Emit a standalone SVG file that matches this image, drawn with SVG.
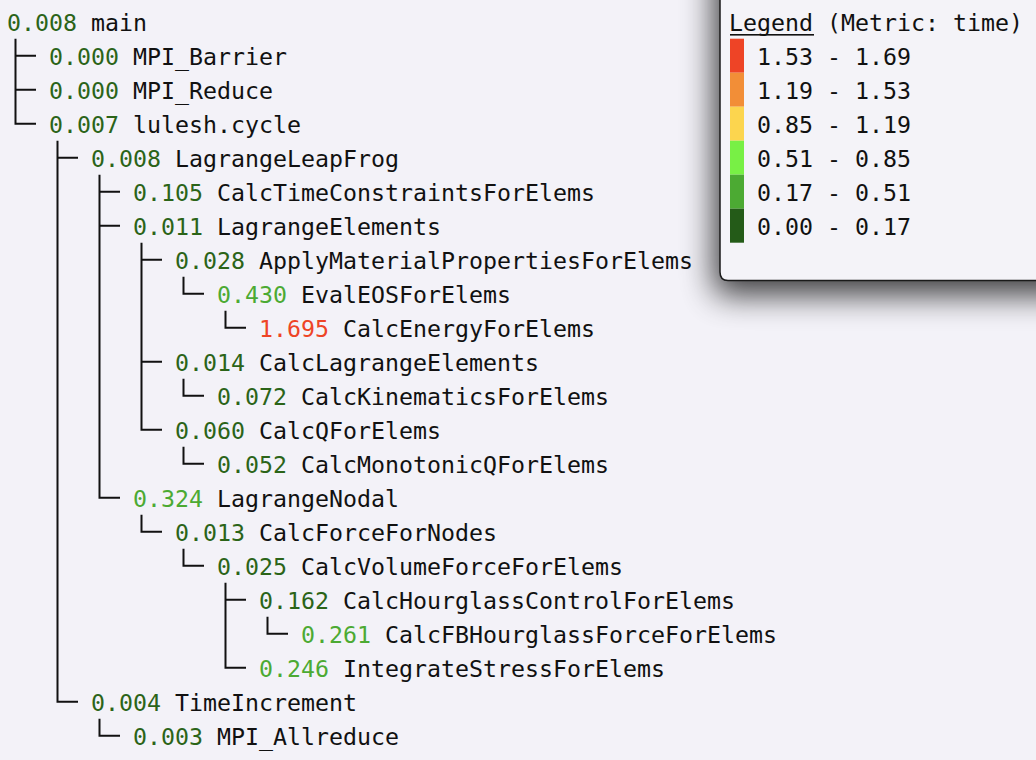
<svg xmlns="http://www.w3.org/2000/svg" width="1036" height="760" viewBox="0 0 1036 760">
<style>
text{font-family:"DejaVu Sans Mono","Liberation Mono",monospace;font-size:23.25px;fill:#111}
.lo{fill:#2b6418}
.mid{fill:#4caa33}
.hi{fill:#ee4426}
.conn path{fill:none;stroke:#111;stroke-width:2}
</style>
<defs>
<filter id="sh" x="-30%" y="-30%" width="160%" height="180%">
<feGaussianBlur stdDeviation="16"/>
</filter>
</defs>
<rect width="1036" height="760" fill="#f3f2f8"/>
<g class="conn" id="connectors">
<path d="M15.5 38.7V123.7H36M15.5 55.7H36M15.5 89.7H36"/>
<path d="M57.5 140.7V701.7H78M57.5 157.7H78"/>
<path d="M99.5 174.7V497.7H120M99.5 191.7H120M99.5 225.7H120"/>
<path d="M141.5 242.7V429.7H162M141.5 259.7H162M141.5 361.7H162"/>
<path d="M183.5 276.7V293.7H204"/>
<path d="M225.5 310.7V327.7H246"/>
<path d="M183.5 378.7V395.7H204"/>
<path d="M183.5 446.7V463.7H204"/>
<path d="M141.5 514.7V531.7H162"/>
<path d="M183.5 548.7V565.7H204"/>
<path d="M225.5 582.7V667.7H246M225.5 599.7H246"/>
<path d="M267.5 616.7V633.7H288"/>
<path d="M99.5 718.7V735.7H120"/>
</g>
<g id="n-main"><text x="7" y="30.5"><tspan class="lo">0.008</tspan> main</text></g>
<g id="n-mpi-barrier"><text x="49" y="64.5"><tspan class="lo">0.000</tspan> MPI_Barrier</text></g>
<g id="n-mpi-reduce"><text x="49" y="98.5"><tspan class="lo">0.000</tspan> MPI_Reduce</text></g>
<g id="n-lulesh-cycle"><text x="49" y="132.5"><tspan class="lo">0.007</tspan> lulesh.cycle</text></g>
<g id="n-lagrangeleapfrog"><text x="91" y="166.5"><tspan class="lo">0.008</tspan> LagrangeLeapFrog</text></g>
<g id="n-calctimeconstraints"><text x="133" y="200.5"><tspan class="lo">0.105</tspan> CalcTimeConstraintsForElems</text></g>
<g id="n-lagrangeelements"><text x="133" y="234.5"><tspan class="lo">0.011</tspan> LagrangeElements</text></g>
<g id="n-applymaterial"><text x="175" y="268.5"><tspan class="lo">0.028</tspan> ApplyMaterialPropertiesForElems</text></g>
<g id="n-evaleos"><text x="217" y="302.5"><tspan class="mid">0.430</tspan> EvalEOSForElems</text></g>
<g id="n-calcenergy"><text x="259" y="336.5"><tspan class="hi">1.695</tspan> CalcEnergyForElems</text></g>
<g id="n-calclagrangeelements"><text x="175" y="370.5"><tspan class="lo">0.014</tspan> CalcLagrangeElements</text></g>
<g id="n-calckinematics"><text x="217" y="404.5"><tspan class="lo">0.072</tspan> CalcKinematicsForElems</text></g>
<g id="n-calcq"><text x="175" y="438.5"><tspan class="lo">0.060</tspan> CalcQForElems</text></g>
<g id="n-calcmonotonicq"><text x="217" y="472.5"><tspan class="lo">0.052</tspan> CalcMonotonicQForElems</text></g>
<g id="n-lagrangenodal"><text x="133" y="506.5"><tspan class="mid">0.324</tspan> LagrangeNodal</text></g>
<g id="n-calcforcefornodes"><text x="175" y="540.5"><tspan class="lo">0.013</tspan> CalcForceForNodes</text></g>
<g id="n-calcvolumeforce"><text x="217" y="574.5"><tspan class="lo">0.025</tspan> CalcVolumeForceForElems</text></g>
<g id="n-calchourglasscontrol"><text x="259" y="608.5"><tspan class="lo">0.162</tspan> CalcHourglassControlForElems</text></g>
<g id="n-calcfbhourglass"><text x="301" y="642.5"><tspan class="mid">0.261</tspan> CalcFBHourglassForceForElems</text></g>
<g id="n-integratestress"><text x="259" y="676.5"><tspan class="mid">0.246</tspan> IntegrateStressForElems</text></g>
<g id="n-timeincrement"><text x="91" y="710.5"><tspan class="lo">0.004</tspan> TimeIncrement</text></g>
<g id="n-mpi-allreduce"><text x="133" y="744.5"><tspan class="lo">0.003</tspan> MPI_Allreduce</text></g>
<g id="legend">
<rect x="714" y="-60" width="400" height="355" rx="10" fill="#000" opacity="0.75" filter="url(#sh)"/>
<path d="M720 -10V272Q720 280.5 728 280.5H1050V-10Z" fill="#f4f3f8" stroke="#1a1a1a" stroke-width="1.5"/>
<text x="729" y="30.5">Legend (Metric: time)</text>
<rect x="730" y="34" width="84" height="1.6" fill="#111"/>
<rect x="730" y="38.7" width="14" height="34" fill="#ee4426"/>
<rect x="730" y="72.7" width="14" height="34" fill="#f28e37"/>
<rect x="730" y="106.7" width="14" height="34" fill="#fcd54e"/>
<rect x="730" y="140.7" width="14" height="34" fill="#78f045"/>
<rect x="730" y="174.7" width="14" height="34" fill="#4caa33"/>
<rect x="730" y="208.7" width="14" height="34" fill="#245b18"/>
<text x="757" y="64.5">1.53 - 1.69</text>
<text x="757" y="98.5">1.19 - 1.53</text>
<text x="757" y="132.5">0.85 - 1.19</text>
<text x="757" y="166.5">0.51 - 0.85</text>
<text x="757" y="200.5">0.17 - 0.51</text>
<text x="757" y="234.5">0.00 - 0.17</text>
</g>
</svg>
